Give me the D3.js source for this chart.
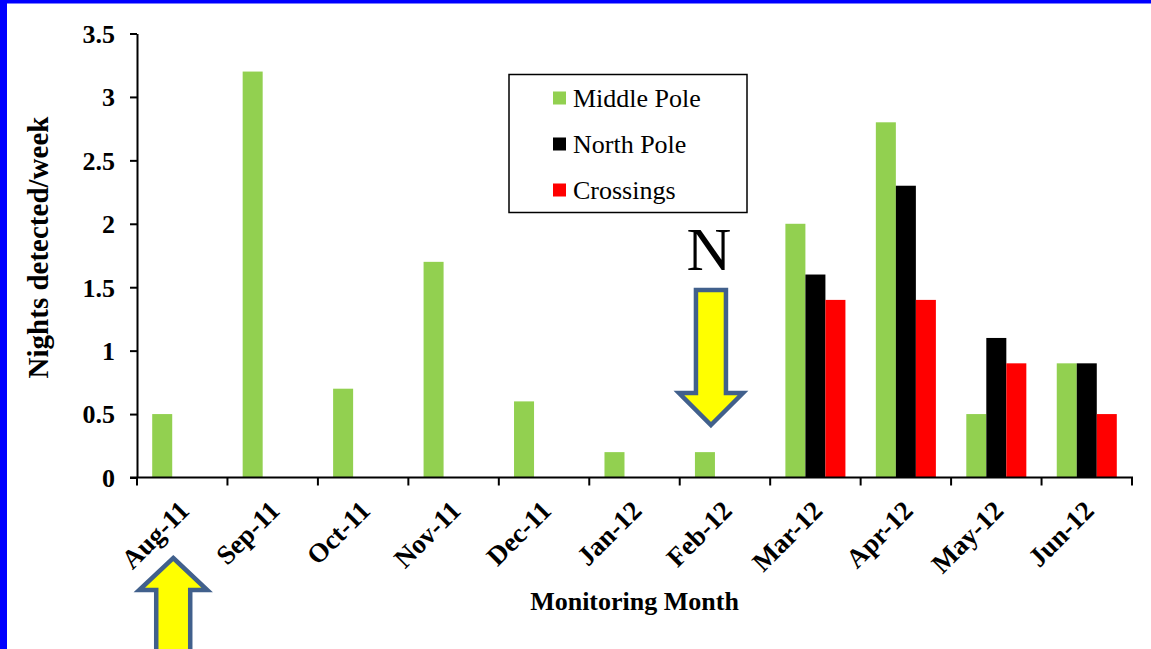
<!DOCTYPE html>
<html>
<head>
<meta charset="utf-8">
<script src="https://cdn.jsdelivr.net/npm/d3@7"></script>
<style>
  html, body { margin: 0; padding: 0; background: #fff; }
  svg { display: block; }
</style>
</head>
<body>
<svg id="chart" width="1151" height="649"></svg>
<script>
// Monthly detections per site
const months = ["Aug-11", "Sep-11", "Oct-11", "Nov-11", "Dec-11", "Jan-12", "Feb-12", "Mar-12", "Apr-12", "May-12", "Jun-12"];
const seriesNames = ["Middle Pole", "North Pole", "Crossings"];
const seriesColors = ["#92D050", "#000000", "#FF0000"];
const middlePole = [0.5, 3.2, 0.7, 1.7, 0.6, 0.2, 0.2, 2.0, 2.8, 0.5, 0.9];
const northPole  = [null, null, null, null, null, null, null, 1.6, 2.3, 1.1, 0.9];
const crossings  = [null, null, null, null, null, null, null, 1.4, 1.4, 0.9, 0.5];
const yTicks = [0, 0.5, 1, 1.5, 2, 2.5, 3, 3.5];
const yTickLabels = ["0", "0.5", "1", "1.5", "2", "2.5", "3", "3.5"];

const seriesValues = [middlePole, northPole, crossings];
const SERIF = "'Liberation Serif', 'Times New Roman', serif";

const svg = d3.select("#chart");
const W = 1151, H = 649;

// frame
svg.append("rect").attr("x", 0).attr("y", 0).attr("width", W).attr("height", H).attr("fill", "#fff");
svg.append("rect").attr("x", 0).attr("y", 0).attr("width", 7).attr("height", H).attr("fill", "#0000FF");
svg.append("rect").attr("x", 0).attr("y", 0).attr("width", W).attr("height", 3.5).attr("fill", "#0000FF");

const plot = { left: 137, right: 1132, top: 33.5, bottom: 477.5 };

const x0 = d3.scaleBand().domain(months).range([plot.left, plot.right]).padding(0);
const x1 = d3.scaleBand().domain(seriesNames).range([0, x0.bandwidth()]).paddingInner(0).paddingOuter(0.76);
const y = d3.scaleLinear().domain([0, 3.5]).range([plot.bottom, plot.top]);

// bars
const rows = [];
months.forEach((m, i) => {
  seriesNames.forEach((s, j) => {
    const v = seriesValues[j][i];
    if (v !== null && v !== undefined) rows.push({ month: m, series: s, value: v, color: seriesColors[j] });
  });
});

svg.append("g").selectAll("rect")
  .data(rows)
  .join("rect")
  .attr("x", d => x0(d.month) + x1(d.series))
  .attr("width", x1.bandwidth())
  .attr("y", d => y(d.value))
  .attr("height", d => y(0) - y(d.value))
  .attr("fill", d => d.color);

// y axis
const yAxis = d3.axisLeft(y).tickValues(yTicks).tickFormat((d, i) => yTickLabels[i]).tickSize(7).tickSizeOuter(0);
const gy = svg.append("g").attr("transform", `translate(${plot.left},0)`).call(yAxis);
gy.select(".domain").attr("stroke", "#000").attr("stroke-width", 2);
gy.selectAll(".tick line").attr("stroke", "#000").attr("stroke-width", 2);
gy.selectAll(".tick text")
  .attr("x", -22)
  .attr("dy", "0.34em")
  .attr("fill", "#000")
  .style("font-family", SERIF)
  .style("font-size", "26px")
  .style("font-weight", "bold");

// x axis: ticks on category boundaries
const boundaries = months.map(m => x0(m)).concat([plot.right]);
const gx = svg.append("g");
gx.append("line")
  .attr("x1", plot.left - 7).attr("x2", plot.right + 1)
  .attr("y1", plot.bottom).attr("y2", plot.bottom)
  .attr("stroke", "#000").attr("stroke-width", 2);
gx.selectAll("line.tk")
  .data(boundaries)
  .join("line")
  .attr("class", "tk")
  .attr("x1", d => d).attr("x2", d => d)
  .attr("y1", plot.bottom).attr("y2", plot.bottom + 8)
  .attr("stroke", "#000").attr("stroke-width", 2);

gx.selectAll("text.xl")
  .data(months)
  .join("text")
  .attr("class", "xl")
  .attr("transform", d => `translate(${x0(d) + x0.bandwidth() / 2 + 2},${plot.bottom + 28}) rotate(-45)`)
  .attr("text-anchor", "end")
  .attr("dy", "0.35em")
  .style("font-family", SERIF)
  .style("font-size", "27px")
  .style("font-weight", "bold")
  .text(d => d);

// axis titles
svg.append("text")
  .attr("x", (plot.left + plot.right) / 2)
  .attr("y", 610)
  .attr("text-anchor", "middle")
  .style("font-family", SERIF)
  .style("font-size", "26px")
  .style("font-weight", "bold")
  .text("Monitoring Month");

svg.append("text")
  .attr("transform", `translate(48,247.5) rotate(-90)`)
  .attr("text-anchor", "middle")
  .style("font-family", SERIF)
  .style("font-size", "29px")
  .style("font-weight", "bold")
  .text("Nights detected/week");

// legend
const lg = svg.append("g").attr("transform", "translate(509,74.5)");
lg.append("rect").attr("width", 238).attr("height", 138)
  .attr("fill", "#fff").attr("stroke", "#000").attr("stroke-width", 1.5);
seriesNames.forEach((s, i) => {
  const row = lg.append("g").attr("transform", `translate(44,${23.5 + i * 46})`);
  row.append("rect").attr("x", 0).attr("y", -6.5).attr("width", 13).attr("height", 13).attr("fill", seriesColors[i]);
  row.append("text").attr("x", 20).attr("dy", "0.35em")
    .style("font-family", SERIF)
    .style("font-size", "26px")
    .text(s);
});

// annotation arrows
const arrowStroke = "#41608C";
function arrowPath(cx, tipY, baseY, endY, halfHead, halfShaft) {
  return `M${cx},${tipY} L${cx + halfHead},${baseY} L${cx + halfShaft},${baseY} L${cx + halfShaft},${endY} ` +
         `L${cx - halfShaft},${endY} L${cx - halfShaft},${baseY} L${cx - halfHead},${baseY} Z`;
}
const febX = x0("Feb-12") + x1("North Pole") - 4;
svg.append("path")
  .attr("d", arrowPath(febX, 425, 393, 290, 32, 15))
  .attr("fill", "#FFFF00").attr("stroke", arrowStroke).attr("stroke-width", 4.5).attr("stroke-linejoin", "miter");

svg.append("text")
  .attr("x", febX - 2).attr("y", 270)
  .attr("text-anchor", "middle")
  .style("font-family", SERIF)
  .style("font-size", "62px")
  .text("N");

const augX = x0("Aug-11") + x0.bandwidth() / 2 - 9;
svg.append("path")
  .attr("d", arrowPath(augX, 558, 590, 660, 34, 17))
  .attr("fill", "#FFFF00").attr("stroke", arrowStroke).attr("stroke-width", 4.5).attr("stroke-linejoin", "miter");
</script>
</body>
</html>
